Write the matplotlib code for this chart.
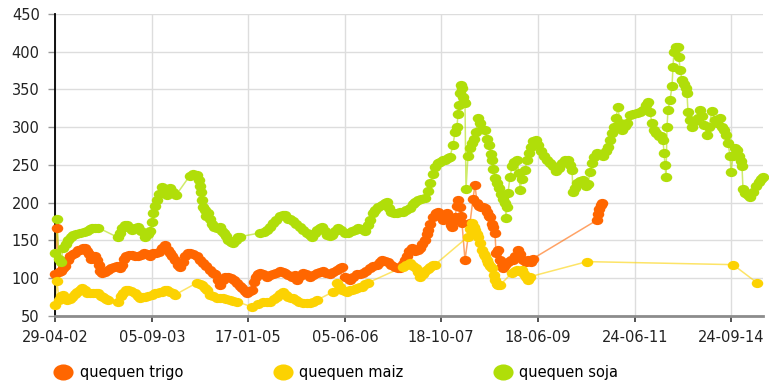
import matplotlib
matplotlib.use('Agg')
import matplotlib.pyplot as plt
from matplotlib.lines import Line2D
from matplotlib.path import Path
import numpy as np

# category labels shown on the x axis and their positions in the series index
tick_labels = ['29-04-02', '05-09-03', '17-01-05', '05-06-06', '18-10-07', '18-06-09', '24-06-11', '24-09-14']
tick_idx = [0, 97, 193, 290, 386, 483, 580, 676]

# quequen trigo
trigo_idx = [0, 2, 4, 6, 8, 10, 13, 15, 18, 20, 23, 25, 28, 30, 32, 34, 36, 38, 40, 42, 44, 45, 47, 50, 53, 56, 59, 62,
             65, 67, 69, 71, 74, 77, 80, 83, 86, 89, 92, 95, 98, 101, 104, 107, 110, 113, 115, 117, 120, 123, 125, 128,
             130, 133, 135, 138, 142, 145, 148, 151, 155, 158, 160, 163, 165, 168, 170, 173, 176, 179, 182, 185, 187,
             190, 192, 195, 197, 199, 201, 203, 205, 208, 212, 215, 218, 221, 225, 228, 230, 233, 237, 240, 242, 245,
             248, 251, 255, 258, 262, 265, 268, 271, 275, 278, 282, 285, 287, 290, 293, 295, 298, 302, 305, 308, 311,
             315, 318, 322, 325, 327, 330, 333, 336, 340, 343, 345, 348, 350, 352, 354, 357, 360, 363, 365, 367, 370,
             372, 373, 375, 378, 381, 383, 385, 388, 390, 392, 394, 396, 397, 399, 400, 402, 403, 405, 406, 407, 410,
             415, 418, 420, 422, 424, 426, 428, 430, 432, 434, 435, 437, 438, 440, 441, 443, 445, 447, 448, 450, 453,
             456, 458, 460, 463, 465, 468, 471, 473, 476, 478, 542, 543, 544, 546, 547]
trigo_val = [105, 167, 108, 110, 113, 116, 124, 129, 132, 134, 137, 138, 140, 140, 136, 132, 125, 127, 129, 124, 118,
             110, 107, 108, 111, 113, 115, 116, 114, 118, 125, 129, 131, 131, 130, 129, 131, 134, 132, 130, 133, 134,
             135, 140, 144, 138, 134, 130, 124, 118, 115, 122, 129, 133, 134, 132, 129, 124, 120, 116, 111, 107, 105,
             97, 91, 97, 101, 101, 100, 97, 94, 90, 87, 83, 81, 83, 85, 95, 102, 106, 107, 105, 102, 104, 105, 107,
             109, 108, 107, 104, 102, 104, 98, 103, 107, 105, 102, 104, 107, 108, 109, 107, 105, 108, 111, 114, 115,
             102, 100, 98, 101, 105, 106, 107, 110, 114, 116, 118, 121, 124, 123, 122, 118, 115, 114, 114, 119, 124,
             130, 136, 140, 136, 138, 140, 145, 151, 158, 164, 172, 181, 186, 188, 183, 177, 183, 187, 178, 170, 168,
             176, 181, 196, 204, 195, 183, 173, 124, 173, 205, 224, 200, 196, 195, 194, 193, 188, 182, 181, 172, 168,
             160, 134, 138, 124, 116, 114, 118, 122, 124, 124, 130, 138, 132, 124, 122, 124, 122, 126, 177, 185, 192,
             197, 200]

# quequen maiz
maiz_idx = [0, 2, 4, 6, 8, 10, 12, 15, 17, 20, 22, 25, 27, 30, 32, 35, 38, 41, 43, 46, 48, 51, 53, 63, 66, 68, 71, 73,
            76, 80, 83, 85, 88, 90, 93, 97, 100, 102, 105, 107, 110, 112, 115, 118, 120, 142, 145, 147, 150, 152, 155,
            158, 162, 165, 168, 171, 175, 178, 182, 197, 203, 208, 212, 215, 219, 222, 225, 228, 231, 233, 236, 238,
            241, 244, 248, 252, 255, 258, 262, 278, 282, 285, 287, 290, 292, 295, 297, 300, 302, 305, 307, 310, 313,
            348, 351, 355, 358, 361, 363, 365, 368, 370, 373, 375, 378, 380, 413, 415, 417, 419, 420, 422, 423, 425,
            427, 429, 430, 432, 433, 435, 437, 439, 440, 442, 443, 445, 457, 460, 462, 464, 467, 469, 471, 473, 475,
            532, 678, 702]
maiz_val = [65, 96, 71, 76, 78, 74, 71, 73, 75, 79, 82, 85, 87, 84, 81, 81, 81, 80, 81, 77, 75, 72, 71, 69, 76, 81, 84,
            85, 83, 81, 76, 74, 75, 75, 77, 78, 80, 81, 82, 82, 84, 85, 82, 80, 78, 94, 93, 91, 87, 85, 78, 76, 74, 74,
            74, 72, 71, 70, 69, 62, 66, 69, 69, 69, 72, 75, 79, 82, 78, 75, 74, 74, 71, 69, 67, 67, 67, 69, 71, 82, 94,
            88, 85, 83, 82, 84, 85, 86, 87, 88, 89, 92, 94, 115, 118, 120, 116, 114, 108, 102, 106, 109, 112, 115, 117,
            118, 155, 165, 173, 168, 164, 158, 155, 147, 138, 132, 129, 124, 120, 116, 114, 104, 98, 93, 91, 91, 107,
            109, 111, 110, 111, 106, 101, 98, 102, 122, 118, 94]

# quequen soja
soja_idx = [0, 2, 4, 6, 8, 11, 13, 16, 18, 21, 25, 29, 32, 35, 37, 40, 43, 63, 65, 67, 70, 72, 75, 77, 80, 83, 86, 90,
            93, 95, 97, 98, 100, 102, 104, 107, 109, 112, 115, 118, 121, 135, 138, 142, 144, 145, 146, 147, 148, 150,
            151, 153, 155, 157, 159, 162, 165, 167, 169, 171, 173, 176, 178, 181, 183, 185, 205, 209, 212, 215, 218,
            221, 225, 228, 230, 233, 235, 238, 241, 245, 248, 252, 255, 257, 260, 262, 265, 267, 270, 272, 275, 277,
            280, 283, 286, 290, 293, 297, 300, 303, 306, 310, 313, 315, 318, 320, 323, 327, 330, 332, 334, 336, 339,
            342, 345, 348, 351, 355, 358, 360, 363, 366, 370, 373, 375, 378, 380, 383, 385, 388, 390, 393, 395, 398,
            400, 402, 403, 404, 405, 406, 407, 408, 409, 410, 411, 413, 415, 417, 419, 421, 423, 425, 427, 430, 432,
            434, 436, 437, 438, 440, 442, 444, 446, 448, 450, 451, 452, 453, 455, 457, 459, 462, 464, 465, 467, 470,
            472, 474, 476, 478, 481, 483, 486, 489, 492, 495, 498, 501, 504, 507, 510, 513, 515, 517, 518, 520, 522,
            525, 528, 531, 533, 535, 537, 539, 542, 545, 548, 551, 553, 555, 557, 559, 561, 563, 565, 567, 570, 572,
            575, 578, 582, 585, 588, 591, 593, 595, 597, 599, 601, 604, 606, 608, 609, 610, 611, 612, 613, 615, 617,
            618, 619, 621, 623, 624, 625, 627, 629, 631, 632, 633, 635, 637, 640, 643, 645, 647, 649, 652, 654, 657,
            660, 662, 665, 667, 669, 671, 673, 675, 676, 678, 680, 682, 684, 686, 687, 688, 690, 693, 695, 698, 701,
            704, 706, 708]
soja_val = [134, 179, 125, 122, 140, 146, 151, 155, 157, 158, 160, 161, 162, 165, 167, 166, 167, 154, 160, 167, 170, 171,
            167, 164, 166, 168, 162, 154, 158, 162, 175, 187, 196, 204, 212, 221, 216, 210, 220, 214, 210, 236, 238,
            237, 230, 222, 214, 204, 195, 190, 183, 186, 178, 172, 168, 167, 168, 163, 160, 156, 151, 148, 147, 150,
            154, 155, 160, 161, 164, 168, 173, 177, 182, 184, 184, 178, 178, 176, 172, 168, 164, 160, 157, 155, 160,
            164, 167, 168, 162, 157, 156, 157, 162, 167, 164, 160, 160, 162, 164, 167, 165, 162, 170, 177, 186, 191,
            194, 197, 200, 201, 193, 188, 187, 187, 188, 188, 190, 193, 198, 201, 203, 205, 206, 216, 226, 238, 247,
            252, 254, 256, 257, 259, 261, 276, 294, 300, 318, 330, 345, 356, 352, 340, 333, 332, 218, 262, 272, 279,
            285, 294, 312, 305, 298, 296, 285, 276, 265, 257, 245, 233, 226, 220, 212, 205, 200, 180, 195, 213, 234,
            248, 254, 257, 240, 217, 232, 244, 256, 266, 274, 282, 283, 277, 268, 262, 257, 252, 248, 242, 246, 253,
            256, 257, 250, 244, 214, 220, 226, 229, 230, 222, 225, 241, 252, 261, 266, 264, 262, 268, 274, 283, 292,
            300, 312, 327, 305, 296, 301, 305, 316, 318, 319, 320, 323, 330, 333, 320, 305, 296, 292, 288, 288, 283,
            266, 250, 234, 300, 323, 336, 354, 380, 400, 406, 406, 393, 376, 363, 357, 352, 345, 320, 310, 300, 308,
            312, 323, 315, 303, 290, 300, 322, 310, 305, 312, 300, 296, 290, 279, 262, 241, 262, 272, 270, 262, 255,
            248, 218, 213, 210, 208, 214, 222, 228, 232, 234]

series = [
    ('quequen trigo', trigo_idx, trigo_val, '#FF6600'),
    ('quequen maiz', maiz_idx, maiz_val, '#FCD202'),
    ('quequen soja', soja_idx, soja_val, '#B0DE09'),
]

# slightly flattened round bullet
circ = Path.unit_circle()
bullet = Path(circ.vertices * np.array([1.0, 0.8]), circ.codes)

plt.rcParams['font.family'] = ['DejaVu Sans']
fig = plt.figure(figsize=(7.69, 3.87), dpi=100)
ax = fig.add_axes([0.0715, 0.1835, 0.9207, 0.7804])

handles = []
for name, xi, yv, col in series:
    ax.plot(xi, yv, color=col, lw=1.1, alpha=0.6, zorder=2)
    ax.plot(xi, yv, linestyle='none', marker=bullet, markersize=8.3,
            markerfacecolor=col, markeredgecolor=col, markeredgewidth=0, zorder=3, clip_on=False)
    handles.append(Line2D([], [], linestyle='none', marker=bullet, markersize=14.5,
                          markerfacecolor=col, markeredgewidth=0, label=name))

ax.set_xlim(0, 708)
ax.set_ylim(50, 450)
ax.set_yticks(np.arange(50, 451, 50))
ax.set_xticks(tick_idx)
ax.set_xticklabels(tick_labels)

ax.grid(True, color='#dddddd', lw=1)
ax.set_axisbelow(True)
for s in ['top', 'right']:
    ax.spines[s].set_visible(False)
ax.spines['left'].set_color('#000000')
ax.spines['left'].set_linewidth(1.3)
ax.spines['bottom'].set_color('#8c8c8c')
ax.spines['bottom'].set_linewidth(2)
ax.tick_params(axis='y', length=5, width=1, color='#999999', pad=6, labelsize=10.5, labelcolor='#222222')
ax.tick_params(axis='x', length=4, width=1.2, color='#333333', pad=6, labelsize=10.5, labelcolor='#222222')

fig.legend(handles=handles, loc='center left', bbox_to_anchor=(53 / 769, 1 - 373 / 387), ncol=3,
           frameon=False, fontsize=10.5, handlelength=1.4, handletextpad=0.45, columnspacing=6.1,
           borderpad=0, borderaxespad=0)

fig.savefig('out.png', dpi=100)
